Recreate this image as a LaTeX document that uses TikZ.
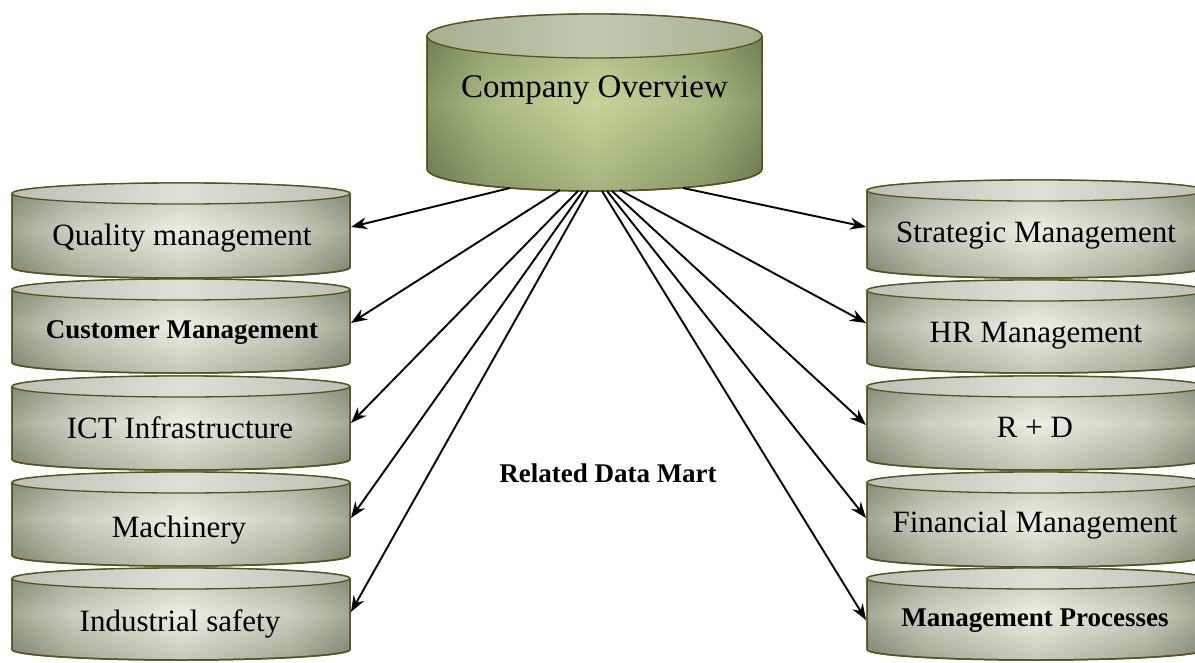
\documentclass[tikz,border=0pt]{standalone}
\usepackage{fontspec}
\setmainfont{Liberation Serif}
\usetikzlibrary{arrows.meta}
\definecolor{ovedge}{RGB}{104,120,76}
\definecolor{ovmid}{RGB}{198,214,154}
\definecolor{ovtop}{RGB}{166,176,144}
\definecolor{ovtopmid}{RGB}{192,200,174}
\definecolor{dbedge}{RGB}{126,131,110}
\definecolor{dbmid}{RGB}{236,240,228}
\definecolor{dbtop}{RGB}{190,192,180}
\definecolor{dbtopmid}{RGB}{222,224,214}
\definecolor{rim}{RGB}{84,84,28}
\pgfdeclarehorizontalshading{dbh}{100bp}{color(0bp)=(dbedge); color(25bp)=(dbedge);
  color(34bp)=(dbedge!45!dbmid); color(50bp)=(dbmid); color(66bp)=(dbedge!45!dbmid);
  color(75bp)=(dbedge); color(100bp)=(dbedge)}
\pgfdeclarehorizontalshading{ovh}{100bp}{color(0bp)=(ovedge); color(25bp)=(ovedge);
  color(34bp)=(ovedge!45!ovmid); color(50bp)=(ovmid); color(66bp)=(ovedge!45!ovmid);
  color(75bp)=(ovedge); color(100bp)=(ovedge)}
\tikzset{
  ov body/.style={draw=rim, line width=1.5pt, shading=ovh},
  ov glow/.style={top color=ovedge, bottom color=ovedge, middle color=ovmid, fill opacity=0.35},
  ov end/.style={draw=rim, line width=1.3pt, left color=ovtop, right color=ovtop, middle color=ovtopmid},
  db body/.style={draw=rim, line width=1.5pt, shading=dbh},
  db glow/.style={top color=dbedge, bottom color=dbedge, middle color=dbmid, fill opacity=0.35},
  db end/.style={draw=rim, line width=1.3pt, left color=dbtop, right color=dbtop, middle color=dbtopmid},
  lbl/.style={font=\fontsize{31}{36}\selectfont, anchor=base, inner sep=0pt},
  blbl/.style={font=\fontsize{27}{32}\selectfont\bfseries, anchor=base, inner sep=0pt},
  biglbl/.style={font=\fontsize{33}{38}\selectfont, anchor=base, inner sep=0pt},
  conn/.style={draw=black, line width=1.9pt, -{Stealth[length=16pt,width=12pt]}}
}
% #1 cx, #2 rx, #3 top of end ellipse, #4 bottom of body, #5 ry, #6 style prefix
\newcommand\dbcyl[6]{%
  \path[#6 body] (#1-#2,#3+#5) -- (#1-#2,#4-#5)
    arc[start angle=180,end angle=360,x radius=#2pt,y radius=#5pt]
    -- (#1+#2,#3+#5)
    arc[start angle=0,end angle=180,x radius=#2pt,y radius=#5pt] -- cycle;
  \path[#6 glow] (#1-#2,#3+#5) -- (#1-#2,#4-#5)
    arc[start angle=180,end angle=360,x radius=#2pt,y radius=#5pt]
    -- (#1+#2,#3+#5)
    arc[start angle=0,end angle=180,x radius=#2pt,y radius=#5pt] -- cycle;
  \draw[rim, line width=1.5pt] (#1-#2,#3+#5) -- (#1-#2,#4-#5)
    arc[start angle=180,end angle=360,x radius=#2pt,y radius=#5pt]
    -- (#1+#2,#3+#5);
  \path[#6 end] (#1,#3+#5) ellipse[x radius=#2pt,y radius=#5pt];
}
\begin{document}
\begin{tikzpicture}[x=1pt,y=-1pt]
\useasboundingbox (0,0) rectangle (1195,662);
\fill[white] (0,0) rectangle (1195,662);

% top cylinder
\dbcyl{594.5}{167.5}{14}{191}{22}{ov}
\node[biglbl] (ov) at (594.5,97) {Company Overview};

% left stack
\dbcyl{181}{169}{183}{278}{10.5}{db}
\dbcyl{181}{169}{279}{373}{10.5}{db}
\dbcyl{181}{169}{376}{470}{10.5}{db}
\dbcyl{181}{169}{472}{566}{10.5}{db}
\dbcyl{181}{169}{568}{660}{10.5}{db}
\node[lbl]  (qm) at (182,245) {Quality management};
\node[blbl] (cm) at (182,338) {Customer Management};
\node[lbl]  (ict) at (180,438) {ICT Infrastructure};
\node[lbl]  (mach) at (179,537) {Machinery};
\node[lbl]  (ind) at (180,631) {Industrial safety};

% right stack
\dbcyl{1036}{169}{180}{278}{10.5}{db}
\dbcyl{1036}{169}{280}{373}{10.5}{db}
\dbcyl{1036}{169}{376}{470}{10.5}{db}
\dbcyl{1036}{169}{472}{567}{10.5}{db}
\dbcyl{1036}{169}{568}{660}{10.5}{db}
\node[lbl]  (sm) at (1036,242) {Strategic Management};
\node[lbl]  (hr) at (1036,342) {HR Management};
\node[lbl]  (rd) at (1035,437) {R + D};
\node[lbl]  (fm) at (1035,532) {Financial Management};
\node[blbl] (mp) at (1035,626) {Management Processes};

\node[blbl] (rdm) at (608,482) {Related Data Mart};

% connector end points
\coordinate (ov-qm) at (510,188);
\coordinate (ov-cm) at (560,190);
\coordinate (ov-ict) at (578,191);
\coordinate (ov-mach) at (583,191);
\coordinate (ov-ind) at (588,191);
\coordinate (ov-mp) at (602,191);
\coordinate (ov-fm) at (607,191);
\coordinate (ov-rd) at (612,191);
\coordinate (ov-hr) at (620,190);
\coordinate (ov-sm) at (683,188);

\coordinate (qm-in) at (351,227);
\coordinate (cm-in) at (351,323);
\coordinate (ict-in) at (351,423);
\coordinate (mach-in) at (351,518);
\coordinate (ind-in) at (351,612);
\coordinate (sm-in) at (866,227);
\coordinate (hr-in) at (866,323);
\coordinate (rd-in) at (866,425);
\coordinate (fm-in) at (866,518);
\coordinate (mp-in) at (866,620);

\draw[conn] (ov-qm) -- (qm-in);
\draw[conn] (ov-cm) -- (cm-in);
\draw[conn] (ov-ict) -- (ict-in);
\draw[conn] (ov-mach) -- (mach-in);
\draw[conn] (ov-ind) -- (ind-in);
\draw[conn] (ov-sm) -- (sm-in);
\draw[conn] (ov-hr) -- (hr-in);
\draw[conn] (ov-rd) -- (rd-in);
\draw[conn] (ov-fm) -- (fm-in);
\draw[conn] (ov-mp) -- (mp-in);
\end{tikzpicture}
\end{document}
